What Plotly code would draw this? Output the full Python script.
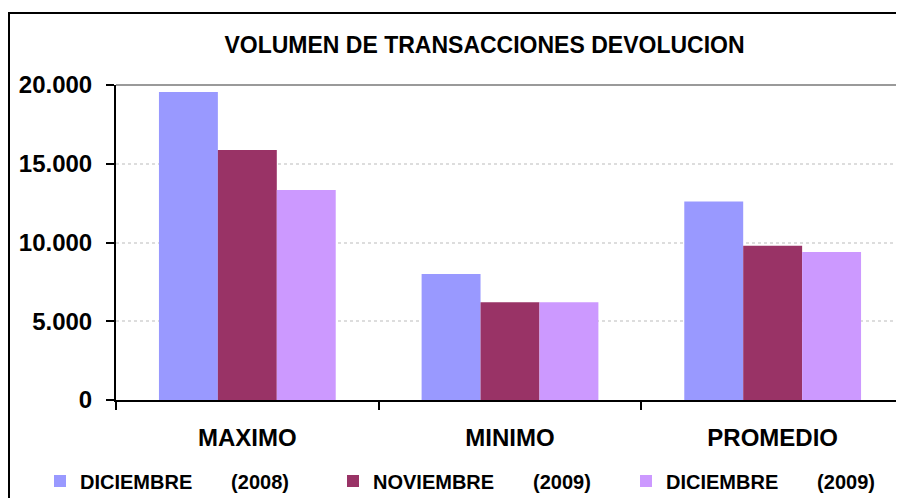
import plotly.graph_objects as go

categories = ["MAXIMO", "MINIMO", "PROMEDIO"]
series_names = ["DICIEMBRE", "NOVIEMBRE", "DICIEMBRE"]
series_years = ["(2008)", "(2009)", "(2009)"]
dic_2008 = [19550, 8000, 12600]
nov_2009 = [15870, 6200, 9800]
dic_2009 = [13330, 6200, 9400]
y_ticks = [0, 5000, 10000, 15000, 20000]
y_tick_labels = ["0", "5.000", "10.000", "15.000", "20.000"]
colors = ["#9999FF", "#993366", "#CC99FF"]

# page has an 8px body margin; figure origin sits at page (8, 8)
OFF = 8
W, H = 896, 490
L, R, T = 116 - OFF, 0, 85 - OFF
B = H - (400 - OFF)
pw, ph = W - L - R, H - T - B

def px_x(page_x):
    return (page_x - OFF - L) / pw

def px_y(page_y):
    return (H - B - (page_y - OFF)) / ph

FONT = "Liberation Sans, Arial, sans-serif"

fig = go.Figure()
for name, year, vals, col in zip(series_names, series_years,
                                 [dic_2008, nov_2009, dic_2009], colors):
    fig.add_trace(go.Bar(
        x=categories, y=vals,
        name=name + "\u00a0" * 7 + year,
        marker=dict(color=col, line=dict(width=0)),
    ))

fig.update_layout(
    width=W, height=H,
    margin=dict(l=L, r=R, t=T, b=B, autoexpand=False),
    paper_bgcolor="white", plot_bgcolor="white",
    barmode="group", bargap=0.327, bargroupgap=0,
    font=dict(family=FONT, color="black", size=20, weight="bold"),
    title=dict(
        text="VOLUMEN DE TRANSACCIONES DEVOLUCION",
        font=dict(family=FONT, size=23, color="black", weight="bold"),
        x=(484.5 - OFF) / W, xref="container", xanchor="center",
        y=1 - (45 - OFF) / H, yref="container", yanchor="middle",
    ),
    xaxis=dict(
        showline=True, linecolor="black", linewidth=2,
        ticks="outside", tickson="boundaries", ticklen=8, tickwidth=2,
        tickcolor="black", showgrid=False,
        tickfont=dict(family=FONT, size=24, color="black", weight="bold"),
        ticklabelstandoff=15,
    ),
    yaxis=dict(
        range=[0, 20000], tickvals=y_ticks, ticktext=y_tick_labels,
        showline=True, linecolor="black", linewidth=2,
        ticks="outside", ticklen=8, tickwidth=2, tickcolor="black",
        showgrid=True, gridcolor="#DDDDDD", griddash="dot", gridwidth=1.5,
        zeroline=False,
        tickfont=dict(family=FONT, size=24, color="black", weight="bold"),
        ticklabelstandoff=9,
    ),
    legend=dict(
        orientation="h", x=px_x(40), xanchor="left",
        y=px_y(481), yanchor="middle",
        font=dict(family=FONT, size=20, color="black", weight="bold"),
        entrywidth=248, entrywidthmode="pixels",
        bgcolor="rgba(0,0,0,0)", itemclick=False,
    ),
    shapes=[
        dict(type="line", xref="paper", yref="paper", x0=0, x1=1, y0=1, y1=1,
             line=dict(color="#9A9A9A", width=2)),
        dict(type="line", xref="paper", yref="paper",
             x0=px_x(9), x1=px_x(9), y0=px_y(12), y1=px_y(H + 20),
             line=dict(color="black", width=2)),
        dict(type="line", xref="paper", yref="paper",
             x0=px_x(8), x1=px_x(W + 20), y0=px_y(13), y1=px_y(13),
             line=dict(color="black", width=2)),
    ],
)

fig.write_html("out.html")
